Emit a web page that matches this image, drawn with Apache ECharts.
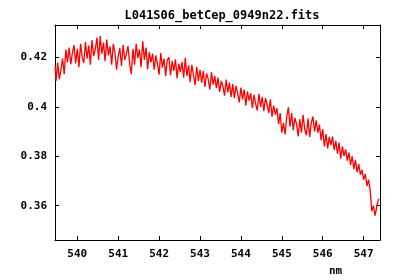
<!DOCTYPE html>
<html>
<head>
<meta charset="utf-8">
<script src="https://cdn.jsdelivr.net/npm/echarts@6/dist/echarts.min.js"></script>
<style>html,body{margin:0;padding:0;background:#fff}#c{width:400px;height:280px}</style>
</head>
<body>
<div id="c"></div>
<script>
var titleText = "L041S06_betCep_0949n22.fits";
var xTicks = [540, 541, 542, 543, 544, 545, 546, 547];
var yTicks = [0.36, 0.38, 0.40, 0.42];
var wlStart = 539.46;
var wlStep = 0.04;
var flux = [
0.4165,0.4105,0.4178,0.4112,0.4150,0.4195,0.4132,0.4232,0.4180,0.4240,
0.4172,0.4218,0.4250,0.4175,0.4235,0.4160,0.4255,0.4200,0.4178,0.4262,
0.4195,0.4248,0.4170,0.4270,0.4205,0.4232,0.4280,0.4190,0.4286,0.4215,
0.4260,0.4185,0.4272,0.4208,0.4245,0.4170,0.4255,0.4220,0.4150,0.4205,
0.4238,0.4165,0.4250,0.4190,0.4215,0.4245,0.4175,0.4132,0.4235,0.4170,
0.4255,0.4198,0.4232,0.4160,0.4266,0.4190,0.4240,0.4152,0.4222,0.4180,
0.4215,0.4150,0.4208,0.4172,0.4130,0.4218,0.4158,0.4195,0.4125,0.4190,
0.4200,0.4128,0.4185,0.4145,0.4192,0.4115,0.4175,0.4140,0.4182,0.4118,
0.4198,0.4125,0.4168,0.4100,0.4170,0.4130,0.4088,0.4162,0.4105,0.4150,
0.4098,0.4145,0.4080,0.4135,0.4112,0.4070,0.4140,0.4090,0.4125,0.4075,
0.4118,0.4060,0.4105,0.4082,0.4045,0.4110,0.4058,0.4098,0.4040,0.4092,
0.4035,0.4085,0.4055,0.4018,0.4078,0.4030,0.4070,0.4005,0.4062,0.4025,
0.4055,0.3995,0.4048,0.4012,0.3985,0.4052,0.4000,0.4040,0.3982,0.4035,
0.4010,0.3975,0.4030,0.3960,0.4005,0.3968,0.3995,0.3930,0.3975,0.3895,
0.3935,0.3888,0.3960,0.3998,0.3920,0.3975,0.3905,0.3955,0.3930,0.3880,
0.3950,0.3895,0.3968,0.3910,0.3885,0.3952,0.3878,0.3935,0.3960,0.3900,
0.3945,0.3895,0.3928,0.3865,0.3910,0.3840,0.3890,0.3832,0.3878,0.3845,
0.3880,0.3825,0.3862,0.3810,0.3855,0.3790,0.3840,0.3800,0.3828,0.3782,
0.3815,0.3765,0.3800,0.3748,0.3785,0.3735,0.3768,0.3725,0.3745,0.3705,
0.3728,0.3680,0.3705,0.3662,0.3578,0.3600,0.3560,0.3595,0.3625
];
var seriesData = flux.map(function (v, i) { return [wlStart + i * wlStep, v]; });

var font = "DejaVu Sans Mono";
var chart = echarts.init(document.getElementById('c'), null, {renderer: 'canvas'});
var axisCommon = {
  axisLine: {show: true, lineStyle: {color: '#000', width: 1}},
  splitLine: {show: false}
};
chart.setOption({
  animation: false,
  backgroundColor: '#fff',
  title: {
    text: titleText, left: 217, top: 5, textAlign: 'center',
    textStyle: {fontFamily: font, fontWeight: 'bold', fontSize: 12, color: '#000'}
  },
  grid: {left: 55, right: 20, top: 25, bottom: 40},
  graphic: [{
    type: 'text', left: 329, top: 266,
    style: {text: 'nm', font: 'bold 11px "DejaVu Sans Mono"', fill: '#000'}
  }],
  xAxis: [
    Object.assign({}, axisCommon, {
      type: 'value', position: 'bottom', min: 539.455, max: 547.40,
      axisTick: {show: true, inside: true, length: 4, customValues: xTicks, lineStyle: {color: '#000'}},
      axisLabel: {show: true, customValues: xTicks, margin: 9, color: '#000',
        fontFamily: font, fontWeight: 'bold', fontSize: 11}
    }),
    Object.assign({}, axisCommon, {
      type: 'value', position: 'top', min: 539.455, max: 547.40,
      axisTick: {show: true, inside: true, length: 4, customValues: xTicks, lineStyle: {color: '#000'}},
      axisLabel: {show: false}
    })
  ],
  yAxis: [
    Object.assign({}, axisCommon, {
      type: 'value', position: 'left', min: 0.3461, max: 0.4331,
      axisTick: {show: true, inside: true, length: 4, customValues: yTicks, lineStyle: {color: '#000'}},
      axisLabel: {show: true, customValues: yTicks, margin: 8, color: '#000',
        fontFamily: font, fontWeight: 'bold', fontSize: 11,
        formatter: function (v) { return String(Math.round(v * 100) / 100); }}
    }),
    Object.assign({}, axisCommon, {
      type: 'value', position: 'right', min: 0.3461, max: 0.4331,
      axisTick: {show: true, inside: true, length: 4, customValues: yTicks, lineStyle: {color: '#000'}},
      axisLabel: {show: false}
    })
  ],
  series: [{
    type: 'line', xAxisIndex: 0, yAxisIndex: 0,
    data: seriesData, showSymbol: false, symbol: 'none', step: 'middle',
    lineStyle: {color: '#ff0000', width: 1.3},
    silent: true
  }]
});
</script>
</body>
</html>
